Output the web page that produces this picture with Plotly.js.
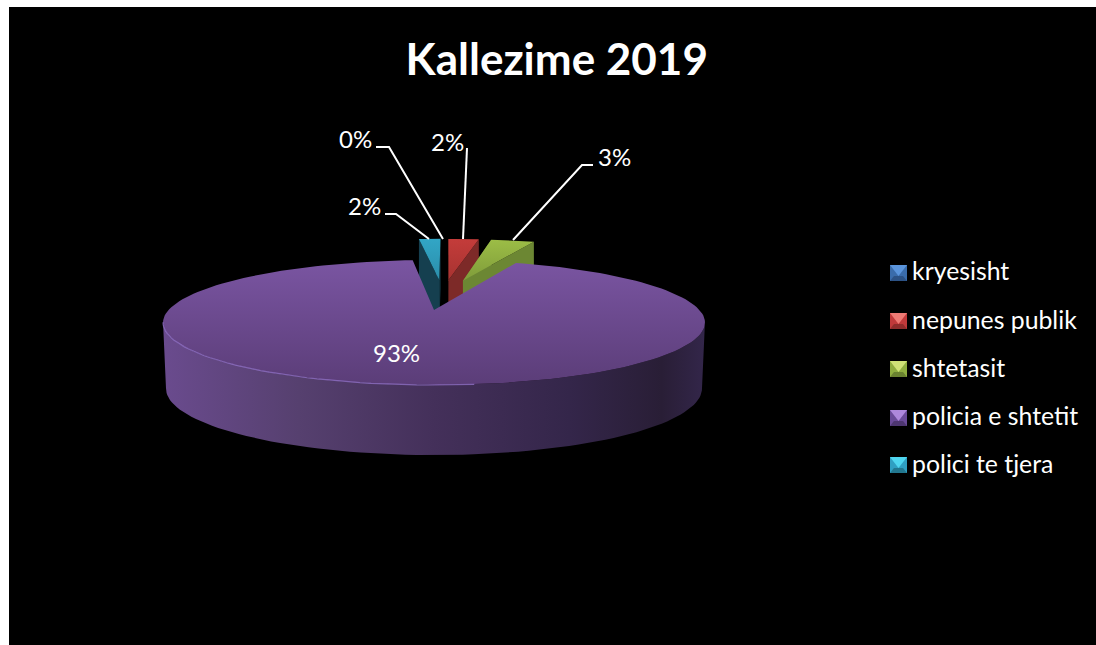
<!DOCTYPE html>
<html><head><meta charset="utf-8">
<script src="https://cdn.plot.ly/plotly-3.0.1.min.js"></script>
<style>html,body{margin:0;padding:0;background:#fff}</style></head>
<body><div id="chart" style="width:1096px;height:645px"></div>
<script>
const categories = ['kryesisht','nepunes publik','shtetasit','policia e shtetit','polici te tjera'];
const values = [0, 2.4, 3.4, 92.5, 1.7];
const baseColors = ['#3a6cab','#c0393a','#8fae3f','#6a4a98','#2f9fc2'];
const lightColors = ['#5b95dc','#ee7a74','#cfe276','#ae88dc','#4fd6f0'];
const darkColors = ['#2c5285','#8f2c2b','#6a8230','#4d3670','#22778f'];
const topFrom = ['#4f81bd','#c43c3a','#9cbd46','#7a55a2','#32a6c6'];
const topTo = ['#3a6cab','#a73331','#7f9c3a','#5c3f7e','#2b8eaa'];
const wallCol = ['#234a78','#7d2a28','#6c8733','#45305c','#153f4f'];
const dirNudge = [0, 1.3, -2.8, 0, 4.7];
const firstAngle = 0.6;
const labelPos = [[355,138],[447,141],[614,156],[396,352],[364,205]];
const legendY = [273,321,369,418,465];
const leaders = [
  [[443,239],[389,147],[376,147]],
  [[463,239],[467,148]],
  [[513,240],[582,165],[593,165]],
  null,
  [[429,239],[396,214],[385,214]]
];
// perspective pie geometry
const cx=434, cy=310, kx=265.5, ky=60, persp=0.2, explode=0.556, rad=Math.PI/180;
const proj=(u,v)=>{const w=1-persp*v;return [cx+kx*u/w, cy+ky*v/w];};
const total=values.reduce((a,b)=>a+b,0);
const traces=[], annotations=[];
const poly=(pts,color,grad)=>{
  const t={type:'scatter',mode:'lines',x:pts.map(p=>p[0]).concat(pts[0][0]),y:pts.map(p=>p[1]).concat(pts[0][1]),
    fill:'toself',line:{width:0,color:color},showlegend:false,hoverinfo:'skip'};
  if(grad) t.fillgradient=grad; else t.fillcolor=color;
  return t;
};
let acc=firstAngle; const spans=values.map(v=>{const a=acc;acc+=v/total*360;return [a,acc];});
const arcPts=(a,b,ou,ov)=>{const out=[];const n=Math.max(2,Math.ceil((b-a)/2));
  for(let i=0;i<=n;i++){const t=(a+(b-a)*i/n)*rad;out.push(proj(ou+Math.sin(t),ov-Math.cos(t)));}return out;};
const down=(p,d)=>[p[0],p[1]+d];
// exploded small slices
[0,1,2,4].forEach(i=>{
  const [a,b]=spans[i]; const d=((a+b)/2+dirNudge[i])*rad;
  const ou=explode*Math.sin(d), ov=-explode*Math.cos(d);
  const apex=proj(ou,ov), arc=arcPts(a,b,ou,ov), dep=50;
  const s=arc[0], e=arc[arc.length-1];
  traces.push(poly([apex,s,down(s,dep),down(apex,dep)],wallCol[i]));
  traces.push(poly([apex,e,down(e,dep),down(apex,dep)],wallCol[i]));
  traces.push(poly([apex].concat(arc),topFrom[i],{type:'vertical',colorscale:[[0,topTo[i]],[1,topFrom[i]]]}));
});
// main slice
const [pa,pb]=spans[3];
const parc=arcPts(pa,pb,0,0);
let iMax=0,iMin=0; parc.forEach((p,i)=>{if(p[0]>parc[iMax][0])iMax=i; if(p[0]<parc[iMin][0])iMin=i;});
const front=parc.slice(iMax,iMin+1);
const bottomRing=front.map(p=>{const v=(p[1]-322)/62;return [cx+(p[0]-cx)*0.989,p[1]+66+4*v];});
traces.push(poly(front.concat(bottomRing.slice().reverse()),'#45305c',{type:'horizontal',colorscale:[
  [0,'#6a4b8e'],[0.25,'#56406f'],[0.5,'#44305a'],[0.75,'#34264a'],[0.92,'#291e36'],[1,'#33264a']]}));
traces.push(poly([proj(0,0)].concat(parc),'#6a4a90',{type:'vertical',colorscale:[[0,'#5b3d78'],[1,'#7a55a2']]}));
const rim=front.slice(Math.floor(front.length*0.45));
traces.push({type:'scatter',mode:'lines',x:rim.map(p=>p[0]),y:rim.map(p=>p[1]),
  line:{width:1.2,color:'rgba(150,118,205,0.75)'},showlegend:false,hoverinfo:'skip'});
// leader lines and labels
leaders.forEach(l=>{ if(l) traces.push({type:'scatter',mode:'lines',x:l.map(p=>p[0]),y:l.map(p=>p[1]),
  line:{width:2,color:'#fff'},showlegend:false,hoverinfo:'skip'}); });
values.forEach((v,i)=>annotations.push({x:labelPos[i][0],y:labelPos[i][1],xref:'x',yref:'y',text:Math.round(v/total*100)+'%',
  showarrow:false,xanchor:'center',yanchor:'middle',font:{family:'Lato, sans-serif',size:24,color:'#fff'}}));
// bevelled legend keys
categories.forEach((c,i)=>{
  const y=legendY[i], L=890, R=907, T=y-8, B=y+8, iy=y+3;
  traces.push(poly([[L,T],[R,T],[R,B],[L,B]],baseColors[i]));
  traces.push(poly([[L,B],[R,B],[R-4,iy],[L+4,iy]],darkColors[i]));
  traces.push(poly([[L,T],[R,T],[(L+R)/2,iy]],lightColors[i]));
});
// legend entries
categories.forEach((c,i)=>traces.push({type:'scatter',mode:'markers',x:[null],y:[null],name:c,legendgroup:c,
  marker:{symbol:'square',size:1,color:'rgba(0,0,0,0)'},hoverinfo:'skip'}));
const layout={
  width:1096,height:645,margin:{l:9,r:0,t:7,b:0,pad:0},paper_bgcolor:'#fff',plot_bgcolor:'#000',
  title:{text:'Kallezime 2019',x:0.508,xanchor:'center',y:0.907,yanchor:'middle',font:{family:'Lato, sans-serif',size:44,color:'#fff',weight:700}},
  xaxis:{range:[9,1096],visible:false,fixedrange:true},
  yaxis:{range:[645,7],visible:false,fixedrange:true},
  showlegend:true,hovermode:false,
  legend:{x:0.794,xanchor:'left',y:0.622,yanchor:'top',bgcolor:'rgba(0,0,0,0)',borderwidth:0,traceorder:'grouped',tracegroupgap:13,
    itemwidth:30,font:{family:'Lato, sans-serif',size:24.8,color:'#fff'}},
  annotations:annotations
};
Plotly.newPlot('chart',traces,layout,{displayModeBar:false,staticPlot:true});
</script></body></html>
